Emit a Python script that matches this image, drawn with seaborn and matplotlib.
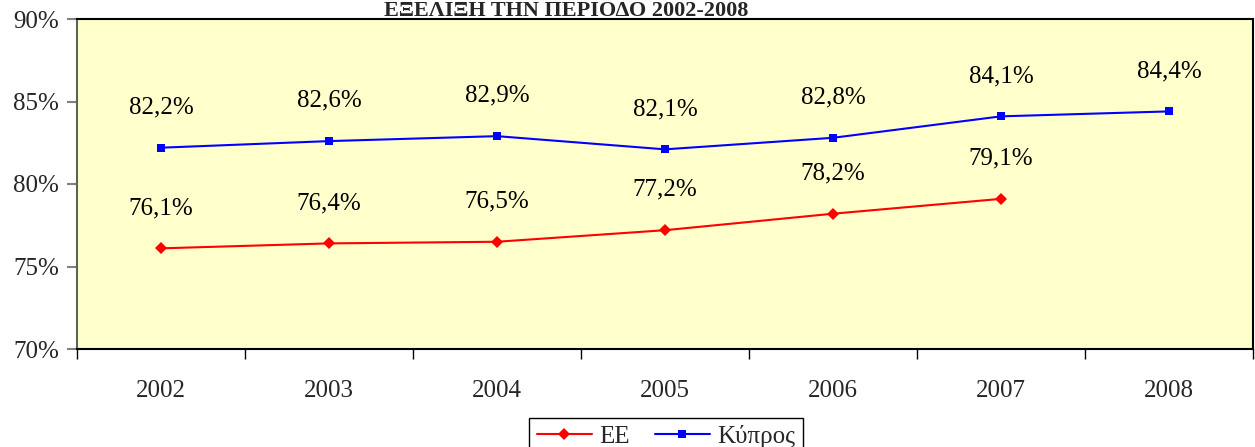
import numpy as np
import pandas as pd
import matplotlib
matplotlib.use("Agg")
import matplotlib.pyplot as plt
import seaborn as sns

years = ["2002", "2003", "2004", "2005", "2006", "2007", "2008"]
ee_values = [76.1, 76.4, 76.5, 77.2, 78.2, 79.1]
cy_values = [82.2, 82.6, 82.9, 82.1, 82.8, 84.1, 84.4]
series_names = ["ΕΕ", "Κύπρος"]
title_text = "ΕΞΕΛΙΞΗ ΤΗΝ ΠΕΡΙΟΔΟ 2002-2008"

rows = []
for i, v in enumerate(ee_values):
    rows.append({"pos": i, "year": years[i], "value": v, "series": series_names[0]})
for i, v in enumerate(cy_values):
    rows.append({"pos": i, "year": years[i], "value": v, "series": series_names[1]})
df = pd.DataFrame(rows)

sns.set_style("white")
plt.rcParams["font.family"] = ["Liberation Serif", "DejaVu Serif"]

fig = plt.figure(figsize=(12.55, 4.47), dpi=100)
ax = fig.add_axes([77 / 1255, 1 - 349 / 447, (1253 - 77) / 1255, (349 - 19) / 447])
ax.set_facecolor("#FFFFCC")

sns.lineplot(data=df, x="pos", y="value", hue="series", style="series",
             palette={"ΕΕ": "#FF0000", "Κύπρος": "#0000FF"},
             markers={"ΕΕ": "D", "Κύπρος": "s"}, dashes=False,
             markersize=6, linewidth=1.5, markeredgewidth=0, ax=ax)

for _, r in df.iterrows():
    ax.annotate(f"{r['value']:.1f}%".replace(".", ","), (r["pos"], r["value"]),
                xytext=(0, 29), textcoords="offset points", ha="center",
                va="center", fontsize=18, color="black")

ax.set_xlim(-0.5, len(years) - 0.5)
ax.set_ylim(70, 90)
ax.set_yticks(np.arange(70, 91, 5))
ax.set_yticklabels([f"{t}%" for t in range(70, 91, 5)], fontsize=18)
ax.set_xticks(range(len(years)))
ax.set_xticklabels(years, fontsize=18)
ax.set_xticks(np.arange(-0.5, len(years), 1), minor=True)
ax.tick_params(axis="x", which="major", bottom=True, length=0, pad=22)
ax.tick_params(axis="x", which="minor", bottom=True, length=7, width=1,
               color="black", direction="out")
ax.tick_params(axis="y", left=True, length=7, width=1.5, color="#808080",
               direction="out", pad=6)
ax.set_xlabel("")
ax.set_ylabel("")

for side in ["top", "right", "bottom"]:
    ax.spines[side].set_color("black")
    ax.spines[side].set_linewidth(1.5)
ax.spines["left"].set_color("#606060")
ax.spines["left"].set_linewidth(1.5)

handles, labels = ax.get_legend_handles_labels()
ax.legend(handles, labels, ncol=2, loc="upper center",
          bbox_to_anchor=(666 / 1255, 1 - 405 / 447), bbox_transform=fig.transFigure,
          frameon=True, fancybox=False, edgecolor="black", fontsize=18,
          handlelength=2.2, handletextpad=0.3, columnspacing=1.0,
          borderpad=0.3, framealpha=1)
ax.get_legend().get_frame().set_linewidth(1)

fig.text(566 / 1255, 1 - 16 / 447, title_text, ha="center", va="baseline",
         fontsize=16, fontweight="bold")

fig.savefig("out.png", dpi=100)
